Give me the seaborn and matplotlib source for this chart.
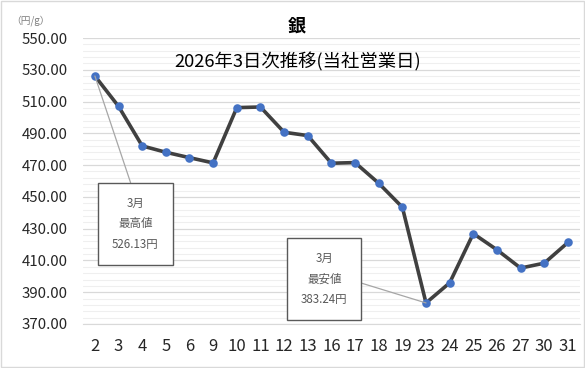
import matplotlib
matplotlib.use("Agg")
import matplotlib.pyplot as plt
import seaborn as sns
import numpy as np
import pandas as pd
from matplotlib.patches import Rectangle

# data
days = ["2", "3", "4", "5", "6", "9", "10", "11", "12", "13", "16",
        "17", "18", "19", "23", "24", "25", "26", "27", "30", "31"]
prices = [526.13, 507.0, 482.1, 478.1, 474.7, 471.4, 506.2, 506.6, 490.7, 488.6, 471.2,
          471.6, 458.6, 443.5, 383.24, 395.9, 426.9, 416.7, 405.2, 408.3, 421.3]
yticks = [370, 390, 410, 430, 450, 470, 490, 510, 530, 550]

df = pd.DataFrame({"day": days, "price": prices})

sns.set_style("white")
plt.rcParams['font.family'] = ['Noto Sans CJK JP', 'DejaVu Sans']

fig = plt.figure(figsize=(5.85, 3.68), dpi=100)
ax = fig.add_axes([0.142, 0.1196, 0.849, 0.777])

sns.lineplot(data=df, x="day", y="price", sort=False, color="#404040",
             linewidth=2.6, ax=ax, zorder=3)
sns.scatterplot(data=df, x="day", y="price", color="#4472C4", s=38,
                edgecolor="#4472C4", linewidth=0, ax=ax, zorder=4)

n = len(days)
ax.set_xlim(-0.5, n - 0.5)
ax.set_ylim(370, 550)
ax.set_yticks(yticks)
ax.set_yticklabels([f"{v:.2f}" for v in yticks], fontsize=10.8)
ax.set_yticks(np.arange(370, 551, 4), minor=True)
ax.set_xticks(range(n))
ax.set_xticklabels(days, fontsize=12)
ax.set_xticks(np.arange(-0.5, n, 1), minor=True)
ax.tick_params(axis="x", which="major", length=0, pad=10)
ax.tick_params(axis="x", which="minor", length=5, color="#D9D9D9", width=1)
ax.tick_params(axis="y", which="both", length=0, pad=11)
ax.grid(axis="y", which="minor", color="#EFEFEF", linewidth=0.8)
ax.grid(axis="y", which="major", color="#D9D9D9", linewidth=0.9)
ax.set_axisbelow(True)
for s in ["top", "right", "left"]:
    ax.spines[s].set_visible(False)
ax.spines["bottom"].set_color("#D9D9D9")
ax.set_xlabel("")
ax.set_ylabel("")

# annotations for max and min
imax = int(np.argmax(prices))
imin = int(np.argmin(prices))
box = dict(boxstyle="square,pad=1.2", fc="white", ec="#595959", lw=1)
ax.annotate(f"3月\n最高値\n{prices[imax]:.2f}円", xy=(imax, prices[imax]),
            xytext=(1.71, 433), textcoords="data", ha="center", va="center",
            fontsize=8.3, color="#595959", linespacing=1.75, bbox=box,
            arrowprops=dict(arrowstyle="-", color="#A6A6A6", lw=0.9,
                            relpos=(0.5, 1.0), shrinkA=0, shrinkB=0), zorder=5)
ax.annotate(f"3月\n最安値\n{prices[imin]:.2f}円", xy=(imin, prices[imin]),
            xytext=(9.7, 398.4), textcoords="data", ha="center", va="center",
            fontsize=8.3, color="#595959", linespacing=1.75, bbox=box,
            arrowprops=dict(arrowstyle="-", color="#A6A6A6", lw=0.9,
                            relpos=(1.0, 0.5), shrinkA=0, shrinkB=0), zorder=5)

fig.text(297 / 585, 1 - 26 / 368, "銀", ha="center", va="center",
         fontsize=13, fontweight="bold", color="#000000")
fig.text(298 / 585, 1 - 62 / 368, "2026年3日次推移(当社営業日)", ha="center",
         va="center", fontsize=13.2, color="#000000")
fig.text(30 / 585, 1 - 21 / 368, "（円/g）", ha="center", va="center",
         fontsize=7, color="#7F7F7F")

fig.patches.append(Rectangle((0.001, 0.002), 0.997, 0.995, transform=fig.transFigure,
                             fill=False, ec="#D9D9D9", lw=1))

fig.savefig("out.png", dpi=100)
